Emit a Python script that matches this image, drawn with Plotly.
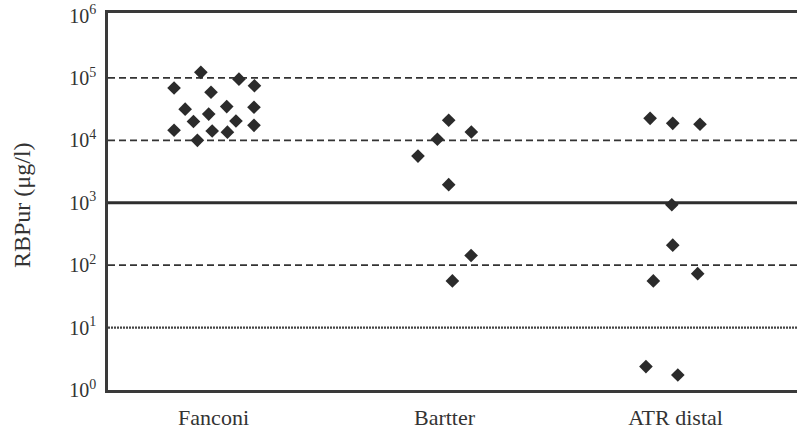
import plotly.graph_objects as go

# ---- data ----
categories = ["Fanconi", "Bartter", "ATR distal"]
category_pos = [1, 2, 3]

fanconi_x = [0.945, 1.110, 0.829, 1.177, 0.989, 0.877, 1.057, 1.175,
             0.979, 0.913, 1.097, 1.175, 0.829, 0.994, 1.060, 0.930]
fanconi_y = [123000, 95500, 69000, 75000, 59000, 31600, 34700, 33900,
             26300, 20000, 20400, 17400, 14500, 14100, 13500, 10000]

bartter_x = [2.018, 2.116, 1.969, 1.885, 2.018, 2.115, 2.034]
bartter_y = [21000, 13600, 10400, 5600, 1950, 143, 56]

atr_x = [2.890, 2.988, 3.106, 2.984, 2.988, 3.096, 2.904, 2.872, 3.010]
atr_y = [22500, 18700, 18100, 930, 209, 73, 56, 2.37, 1.74]

tick_vals = [1, 10, 100, 1000, 10000, 100000, 1000000]
tick_text = ["10<sup>0</sup>", "10<sup>1</sup>", "10<sup>2</sup>", "10<sup>3</sup>",
             "10<sup>4</sup>", "10<sup>5</sup>", "10<sup>6</sup>"]

ref_lines = [100000, 10000, 1000, 100, 10]
ref_styles = ["dash", "dash", "solid", "dash", "dot"]

# ---- styling ----
FONT = "Liberation Serif, Times New Roman, serif"
INK = "#2b2b2b"
line_style = {
    "dash": dict(color="#333333", width=1.8, dash="7px,4px"),
    "solid": dict(color="#2e2e2e", width=3, dash="solid"),
    "dot": dict(color="#444444", width=2.4, dash="2px,1px"),
}

fig = go.Figure()
for xs, ys in [(fanconi_x, fanconi_y), (bartter_x, bartter_y), (atr_x, atr_y)]:
    fig.add_trace(go.Scatter(
        x=xs, y=ys, mode="markers",
        marker=dict(symbol="diamond", size=10.5, color=INK, line=dict(width=0)),
        showlegend=False, cliponaxis=False,
    ))

shapes = []
for v, st in zip(ref_lines, ref_styles):
    shapes.append(dict(type="line", xref="paper", x0=0, x1=1,
                       yref="y", y0=v, y1=v,
                       line=line_style[st], layer="below"))

fig.update_layout(
    width=797, height=431,
    margin=dict(l=108, r=0, t=13, b=41),
    paper_bgcolor="white", plot_bgcolor="white",
    font=dict(family=FONT, color="#333333"),
    shapes=shapes,
    xaxis=dict(
        range=[0.543, 3.526], tickvals=category_pos, ticktext=categories,
        showgrid=False, zeroline=False, showline=True, mirror=True,
        linecolor="#3a3a3a", linewidth=2.5, ticks="", automargin=False,
        tickfont=dict(family=FONT, size=22, color="#333333"),
        ticklabelstandoff=6,
    ),
    yaxis=dict(
        type="log", range=[0, 6.04], tickvals=tick_vals, ticktext=tick_text,
        showgrid=False, zeroline=False, showline=True, mirror=False,
        linecolor="#3a3a3a", linewidth=2.5, ticks="", automargin=False,
        tickfont=dict(family=FONT, size=20, color="#333333"),
        ticklabelstandoff=5, ticklabeloverflow="allow",
    ),
    annotations=[dict(
        text="RBPur (μg/l)", xref="paper", yref="paper",
        x=(22 - 108) / 689, y=(390 - 205) / 377,
        xanchor="center", yanchor="middle", textangle=-90, showarrow=False,
        font=dict(family=FONT, size=24, color="#333333"),
    )],
)

# remove the default 8px page margin so the figure fills the window exactly
fig.write_html("out.html",
               config={"displayModeBar": False},
               post_script="document.body.style.margin='0';document.body.style.overflow='hidden';")
